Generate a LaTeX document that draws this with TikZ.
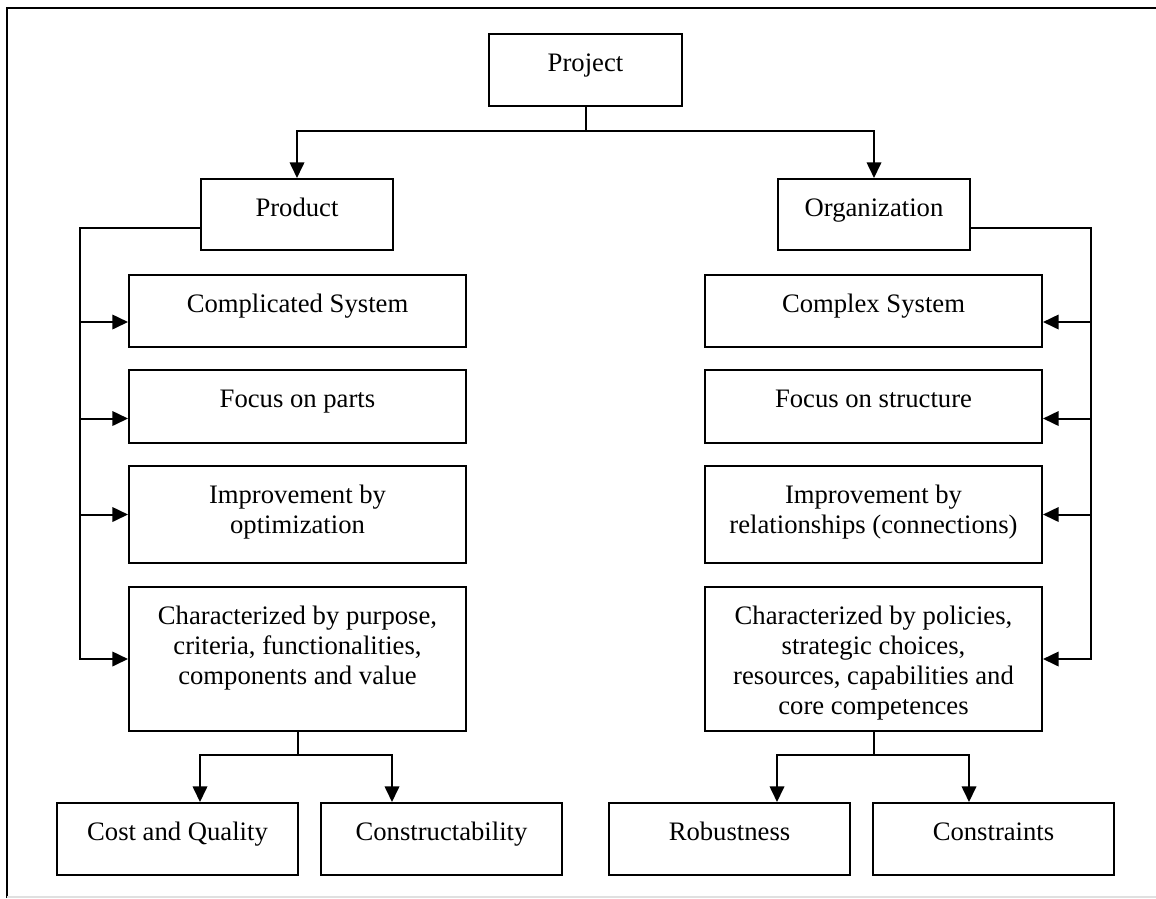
\documentclass[tikz,border=0pt]{standalone}
\usepackage{fontspec}
\setmainfont{Liberation Serif}
\usetikzlibrary{arrows.meta,calc}
\newlength\unitpx
\setlength\unitpx{0.45pt}
% box text: width, height (px), lines at the top
\newcommand{\boxtext}[3]{\parbox[c][#2\unitpx][t]{#1\unitpx}{\centering\vspace*{7.2pt}\strut #3}}
\begin{document}
\begin{tikzpicture}[x=0.45pt,y=-0.45pt,line width=0.9pt]
\tikzstyle{box}=[draw,inner sep=0pt,anchor=north west,font=\fontsize{12}{13.5}\selectfont]
\tikzstyle{arr}=[-{Triangle[length=7pt,width=6.5pt]}]
\useasboundingbox (0,0) rectangle (1156,898);
\draw[line width=1pt] (7,898) -- (7,8) -- (1156,8);
\draw[black!12] (7,896.5) -- (1156,896.5);
\node[box] (project) at (488,33) {\boxtext{193}{72}{Project}};
\node[box] (product) at (200,178) {\boxtext{192}{71}{Product}};
\node[box] (organization) at (777,178) {\boxtext{192}{71}{Organization}};
\node[box] (complicated) at (128,274) {\boxtext{337}{72}{Complicated System}};
\node[box] (parts) at (128,369) {\boxtext{337}{73}{Focus on parts}};
\node[box] (optimization) at (128,465) {\boxtext{337}{97}{Improvement by\\optimization}};
\node[box] (purpose) at (128,586) {\boxtext{337}{144}{Characterized by purpose,\\criteria, functionalities,\\components and value}};
\node[box] (complex) at (704,274) {\boxtext{337}{72}{Complex System}};
\node[box] (structure) at (704,369) {\boxtext{337}{73}{Focus on structure}};
\node[box] (relationships) at (704,465) {\boxtext{337}{97}{Improvement by\\relationships (connections)}};
\node[box] (policies) at (704,586) {\boxtext{337}{144}{Characterized by policies,\\strategic choices,\\resources, capabilities and\\core competences}};
\node[box] (cost) at (56,802) {\boxtext{241}{72}{Cost and Quality}};
\node[box] (constructability) at (320,802) {\boxtext{241}{72}{Constructability}};
\node[box] (robustness) at (608,802) {\boxtext{241}{72}{Robustness}};
\node[box] (constraints) at (872,802) {\boxtext{241}{72}{Constraints}};
% top split
\draw[arr] (project.south) -- ++(0,24) -| (product.north);
\draw[arr] (project.south) -- ++(0,24) -| (organization.north);
% left trunk
\coordinate (ltop) at ($(product.south west)+(0,-23)$);
\coordinate (ltrunk) at ($(ltop)+(-120,0)$);
\coordinate (lin1) at ($(complicated.west)+(0,11)$);
\coordinate (lin2) at ($(parts.west)+(0,12)$);
\draw[arr] (ltop) -- (ltrunk) |- (purpose.west);
\draw[arr] (ltrunk |- lin1) -- (lin1);
\draw[arr] (ltrunk |- lin2) -- (lin2);
\draw[arr] (ltrunk |- optimization.west) -- (optimization.west);
% right trunk
\coordinate (rtop) at ($(organization.south east)+(0,-23)$);
\coordinate (rtrunk) at ($(rtop)+(120,0)$);
\coordinate (rin1) at ($(complex.east)+(0,11)$);
\coordinate (rin2) at ($(structure.east)+(0,12)$);
\draw[arr] (rtop) -- (rtrunk) |- (policies.east);
\draw[arr] (rtrunk |- rin1) -- (rin1);
\draw[arr] (rtrunk |- rin2) -- (rin2);
\draw[arr] (rtrunk |- relationships.east) -- (relationships.east);
% bottom splits
\coordinate (costin) at ($(cost.north west)+(144,0)$);
\coordinate (constrin) at ($(constructability.north west)+(72,0)$);
\coordinate (robin) at ($(robustness.north west)+(169,0)$);
\coordinate (consin) at ($(constraints.north west)+(97,0)$);
\draw[arr] (purpose.south) -- ++(0,23) -| (costin);
\draw[arr] (purpose.south) -- ++(0,23) -| (constrin);
\draw[arr] (policies.south) -- ++(0,23) -| (robin);
\draw[arr] (policies.south) -- ++(0,23) -| (consin);
\end{tikzpicture}
\end{document}
